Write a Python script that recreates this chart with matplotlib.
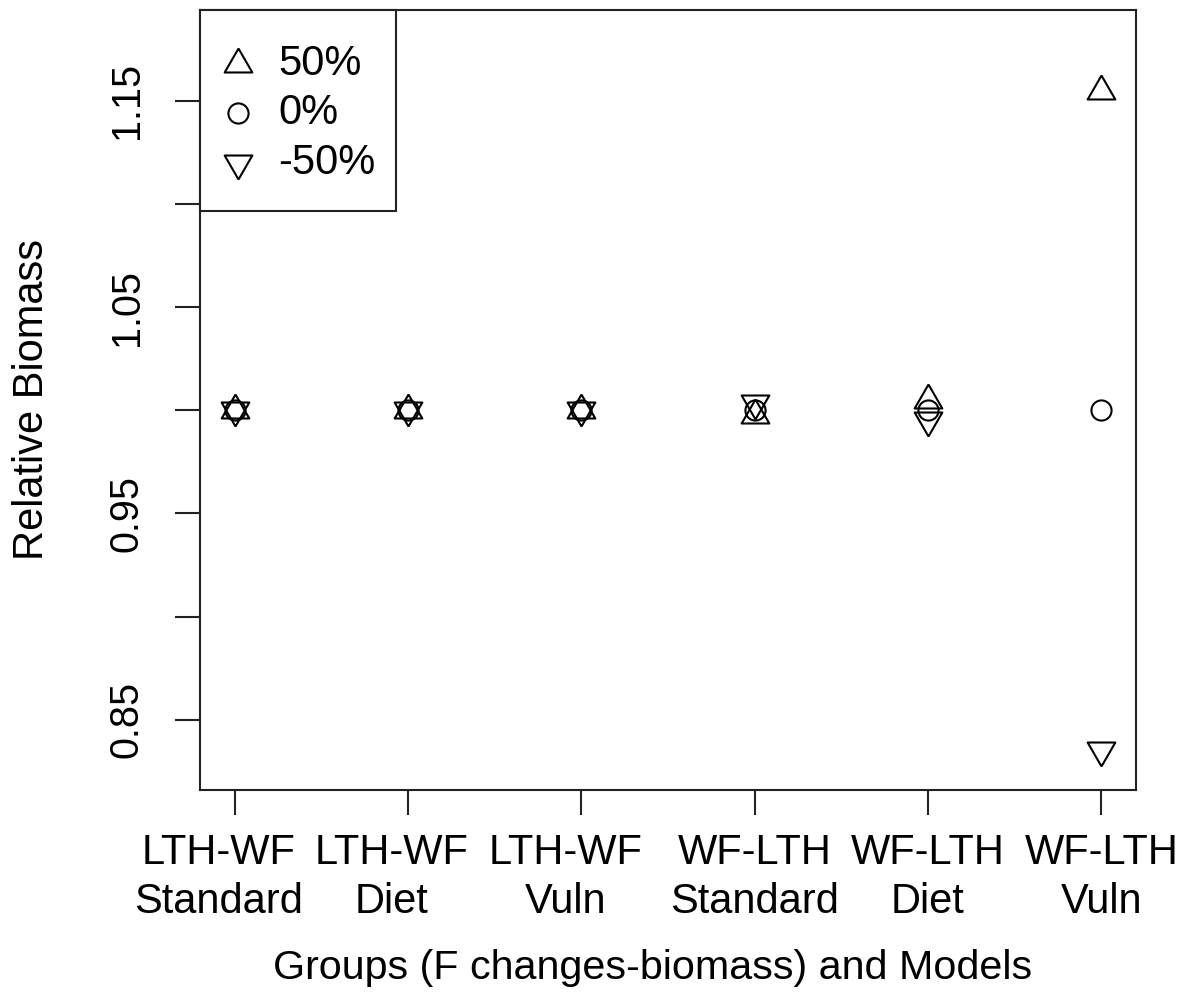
import matplotlib
matplotlib.use("Agg")
import matplotlib.pyplot as plt
import matplotlib.transforms as mtransforms
from matplotlib.patches import Rectangle

plt.rcParams['font.family'] = ['Liberation Sans', 'DejaVu Sans']

# Models (groups with F changes on biomass)
models = ["LTH-WF\nStandard", "LTH-WF\nDiet", "LTH-WF\nVuln",
          "WF-LTH\nStandard", "WF-LTH\nDiet", "WF-LTH\nVuln"]

# Relative biomass for each F change scenario
biomass_plus50 = [1.0, 1.0, 1.0, 0.9977, 1.0051, 1.1548]
biomass_zero = [1.0, 1.0, 1.0, 1.0, 1.0, 1.0]
biomass_minus50 = [1.0, 1.0, 1.0, 1.0037, 0.9955, 0.8353]

scenario_labels = ["50%", "0%", "-50%"]

ytick_values = [0.85, 0.90, 0.95, 1.00, 1.05, 1.10, 1.15]
ytick_shown = [0.85, 0.95, 1.05, 1.15]

# R-style triangles (centred on the circumcentre)
tri_up = [(0, 1), (-0.866, -0.5), (0.866, -0.5), (0, 1)]
tri_down = [(0, -1), (-0.866, 0.5), (0.866, 0.5), (0, -1)]

W, H = 1194, 997
fig = plt.figure(figsize=(W / 100, H / 100), dpi=100)
ax = fig.add_axes([200 / W, 1 - 790 / H, 936 / W, 780 / H])

x = list(range(1, len(models) + 1))
style = dict(linestyle='none', markerfacecolor='none', markeredgecolor='black',
             markeredgewidth=1.5)
markers = [(tri_up, 23), ('o', 14.5), (tri_down, 23)]
series = [biomass_plus50, biomass_zero, biomass_minus50]
for (m, ms), vals in zip(markers, series):
    ax.plot(x, vals, marker=m, markersize=ms, **style)

ax.set_xlim(0.8, 6.2)
ax.set_ylim(0.816, 1.194)

fs = 30
ax.set_xticks(x)
ax.set_xticklabels(models, fontsize=fs, linespacing=1.3)
ax.set_yticks(ytick_values)
ax.set_yticklabels([f"{v:.2f}" if any(abs(v - s) < 1e-9 for s in ytick_shown) else ""
                    for v in ytick_values], fontsize=28.5, rotation=90, va='center')
ax.tick_params(axis='both', direction='out', length=18, width=1.5, color='#222222')
ax.tick_params(axis='x', pad=13)
ax.tick_params(axis='y', pad=21)

# nudge the LTH-WF labels slightly left
shift = mtransforms.ScaledTranslation(-16 / 100, 0, fig.dpi_scale_trans)
for lab in ax.get_xticklabels():
    if lab.get_text().startswith("LTH-WF"):
        lab.set_transform(lab.get_transform() + shift)

for sp in ax.spines.values():
    sp.set_linewidth(1.5)
    sp.set_color('#222222')

ax.set_xlabel("Groups (F changes-biomass) and Models", fontsize=29.7, va='center')
ax.xaxis.set_label_coords(0.484, -0.228)
ax.set_ylabel("Relative Biomass", fontsize=fs, va='center')
ax.yaxis.set_label_coords(-0.18, 0.5)

# legend box in the top-left corner
box_w, box_h = 196 / 936, 201 / 780
ax.add_patch(Rectangle((0, 1 - box_h), box_w, box_h, transform=ax.transAxes,
                       facecolor='white', edgecolor='#222222', linewidth=1.5,
                       zorder=5, clip_on=False))
row_y = [1 - 54 / 780, 1 - 103 / 780, 1 - 153 / 780]
for (m, ms), label, yy in zip(markers, scenario_labels, row_y):
    ax.plot([38 / 936], [yy], marker=m, markersize=ms, transform=ax.transAxes,
            clip_on=False, zorder=6, **style)
    ax.text(78 / 936, yy, label, transform=ax.transAxes, fontsize=fs,
            ha='left', va='center', zorder=6)

fig.savefig("out.png", dpi=100, facecolor='white')
